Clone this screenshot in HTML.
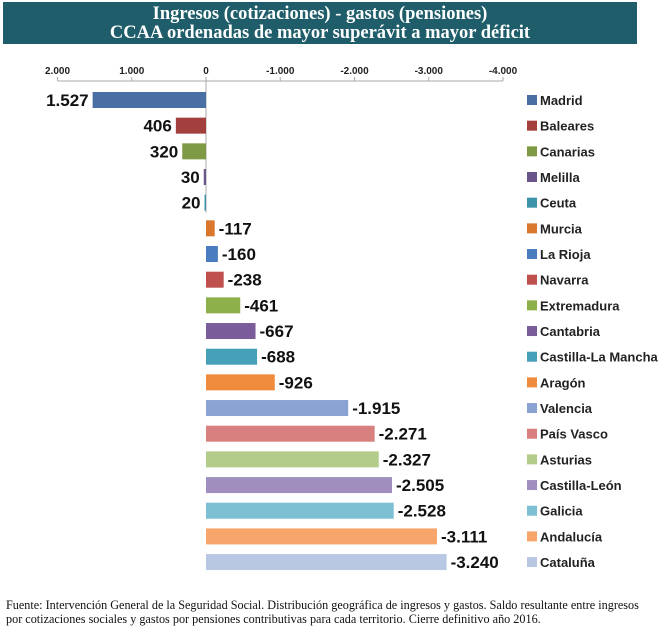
<!DOCTYPE html>
<html><head><meta charset="utf-8"><style>
body{margin:0;width:666px;height:631px;background:#fff;overflow:hidden;font-family:"Liberation Sans",sans-serif}
#title{position:absolute;left:3px;top:2px;width:634px;height:42px;background:#1f5d6a;color:#fff;font-family:"Liberation Serif",serif;font-weight:bold;font-size:18.5px;line-height:19px;text-align:center;padding-top:3px;box-sizing:border-box}
#src{position:absolute;left:6px;top:598px;font-family:"Liberation Serif",serif;font-size:12.2px;line-height:14px;color:#111;white-space:nowrap}
</style></head><body>
<div id="title">Ingresos (cotizaciones) - gastos (pensiones)<br>CCAA ordenadas de mayor superávit a mayor déficit</div>
<svg id="chart" width="666" height="600" style="position:absolute;left:0;top:0"></svg>
<div id="src">Fuente: Intervención General de la Seguridad Social. Distribución geográfica de ingresos y gastos. Saldo resultante entre ingresos<br>por cotizaciones sociales y gastos por pensiones contributivas para cada territorio. Cierre definitivo año 2016.</div>
<script>
const categories=["Madrid","Baleares","Canarias","Melilla","Ceuta","Murcia","La Rioja","Navarra","Extremadura","Cantabria","Castilla-La Mancha","Aragón","Valencia","País Vasco","Asturias","Castilla-León","Galicia","Andalucía","Cataluña"];
const values=[1527,406,320,30,20,-117,-160,-238,-461,-667,-688,-926,-1915,-2271,-2327,-2505,-2528,-3111,-3240];
const labels=["1.527","406","320","30","20","-117","-160","-238","-461","-667","-688","-926","-1.915","-2.271","-2.327","-2.505","-2.528","-3.111","-3.240"];
const tickValues=[2000,1000,0,-1000,-2000,-3000,-4000];
const tickLabels=["2.000","1.000","0","-1.000","-2.000","-3.000","-4.000"];
const colors=["#4a6fa5","#a3403d","#7f9a45","#6a558a","#3d93a9","#d9782d","#4a7cc0","#c0504d","#8db04a","#7a5c9a","#45a0b8","#ef8b3c","#8aa3d2","#d88080","#b3cc89","#a08fbe","#7dbfd3","#f8a56c","#b8c7e2"];
const svg=document.getElementById('chart');const NS="http://www.w3.org/2000/svg";
const x0=206,k=74.25/1000;const xs=v=>x0-v*k;
const y0=100,step=25.67;const ys=i=>y0+i*step;
function mk(t,a){const e=document.createElementNS(NS,t);for(const n in a)e.setAttribute(n,a[n]);svg.appendChild(e);return e;}
let ax=mk('line',{x1:xs(2000),x2:xs(-4000),y1:81,y2:81,stroke:'#aaa'});


tickValues.forEach((v,i)=>{
 let t=mk('line',{x1:xs(v),x2:xs(v),y1:77,y2:81,stroke:'#aaa'});
 
 
 let l=mk('text',{x:xs(v),y:74,'text-anchor':'middle','font-size':10,'font-weight':'bold',fill:'#222'});l.textContent=tickLabels[i];
 
 
});
let zl=mk('line',{x1:x0,x2:x0,y1:81,y2:ys(4)+10,stroke:'#aaa'});


categories.forEach((c,i)=>{
 const v=values[i],y=ys(i),xa=xs(v);
 let r=mk('rect',{x:Math.min(xa,x0),y:y-8,width:Math.max(Math.abs(xa-x0),1.5),height:16,fill:colors[i]});
 
 
 let t=mk('text',{x:v>=0?xa-4:xa+4,y:y+6,'text-anchor':v>=0?'end':'start','font-size':17,'font-weight':'bold',fill:'#111'});t.textContent=labels[i];
 
 
 let s=mk('rect',{x:527,y:y-5,width:10,height:10,fill:colors[i]});
 
 
 let lt=mk('text',{x:540,y:y+5,'font-size':13,'font-weight':'bold',fill:'#222'});lt.textContent=c;
 
 
});
</script>
</body></html>
